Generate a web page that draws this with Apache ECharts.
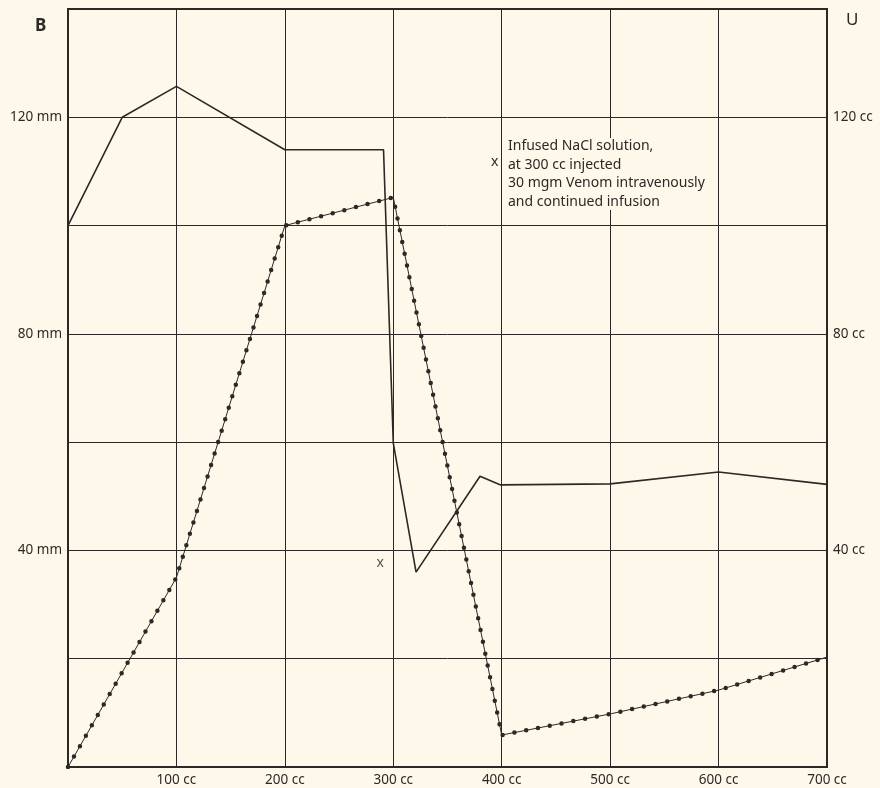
<!DOCTYPE html>
<html>
<head>
<meta charset="utf-8">
<script src="https://cdn.jsdelivr.net/npm/echarts@6/dist/echarts.min.js"></script>
<style>
html,body{margin:0;padding:0;background:#fdf8e9;}
#chart{width:880px;height:788px;}
</style>
</head>
<body>
<div id="chart"></div>
<script>
// Data
const bloodPressure = [[0,100],[50,120],[100,125.7],[200,114],[291,114],[300,59.8],[321,36],[380,53.7],[399,52.1],[500,52.3],[600,54.5],[700,52.2]];
const urineVolume = [[0,0],[100,35],[200,100],[300,105.2],[400,5.9],[500,9.8],[600,14.2],[700,20.3]];
const injectionMark = [[288,37.7]];
const xTickLabels = [100,200,300,400,500,600,700];
const yTickLabels = [40,80,120];
const annotationLines = ['Infused NaCl solution,','at 300 cc injected','30 mgm Venom intravenously','and continued infusion'];

const ink = '#2b2926';
const fontFam = '"Noto Sans", "DejaVu Sans", sans-serif';

const chart = echarts.init(document.getElementById('chart'), null, {renderer:'canvas'});
chart.setOption({
  backgroundColor: '#fdf8e9',
  animation: false,
  grid: {left:68, right:53, top:9, bottom:21, show:true, borderColor:ink, borderWidth:2, backgroundColor:'transparent'},
  xAxis: {
    type:'value', min:0, max:700, interval:100,
    axisLine:{show:false}, axisTick:{show:false},
    splitLine:{show:true, lineStyle:{color:ink, width:1}},
    axisLabel:{
      margin:6, color:ink, fontSize:13.5, fontFamily:fontFam,
      formatter: v => xTickLabels.includes(v) ? v + ' cc' : ''
    }
  },
  yAxis: [{
    type:'value', min:0, max:140, interval:20,
    axisLine:{show:false}, axisTick:{show:false},
    splitLine:{show:true, lineStyle:{color:ink, width:1}},
    axisLabel:{
      margin:6, color:ink, fontSize:13.5, fontFamily:fontFam,
      formatter: v => yTickLabels.includes(v) ? v + ' mm' : ''
    }
  },{
    type:'value', min:0, max:140, interval:20, position:'right',
    axisLine:{show:false}, axisTick:{show:false}, splitLine:{show:false},
    axisLabel:{
      margin:6, color:ink, fontSize:13.5, fontFamily:fontFam,
      formatter: v => yTickLabels.includes(v) ? v + ' cc' : ''
    }
  }],
  series: [
    {type:'line', data:bloodPressure, symbol:'none', lineStyle:{color:ink, width:1.6}, z:5},
    {type:'line', data:urineVolume, symbol:'none', lineStyle:{color:ink, width:1}, z:5},
    {type:'line', data:urineVolume, symbol:'none', lineStyle:{color:ink, width:4.5, type:[0,12], cap:'round'}, z:6},
    {type:'scatter', data:injectionMark, symbolSize:0,
      label:{show:true, position:'inside', formatter:'x', color:ink, fontSize:14, fontFamily:fontFam}, z:7}
  ],
  graphic: [
    {type:'text', left:35, top:18, style:{text:'B', fill:ink, font:'bold 17px ' + fontFam}},
    {type:'text', left:846, top:12, style:{text:'U', fill:ink, font:'17px ' + fontFam}},
    {type:'rect', shape:{x:502, y:138, width:214, height:72}, style:{fill:'#fdf8e9'}, z:10},
    {type:'text', x:508, y:137, z:11, style:{text:annotationLines.join('\n'), fill:ink, font:'14px ' + fontFam, lineHeight:18.5}},
    {type:'text', x:491, y:155, z:11, style:{text:'x', fill:ink, font:'14px ' + fontFam}}
  ]
});
</script>
</body>
</html>
